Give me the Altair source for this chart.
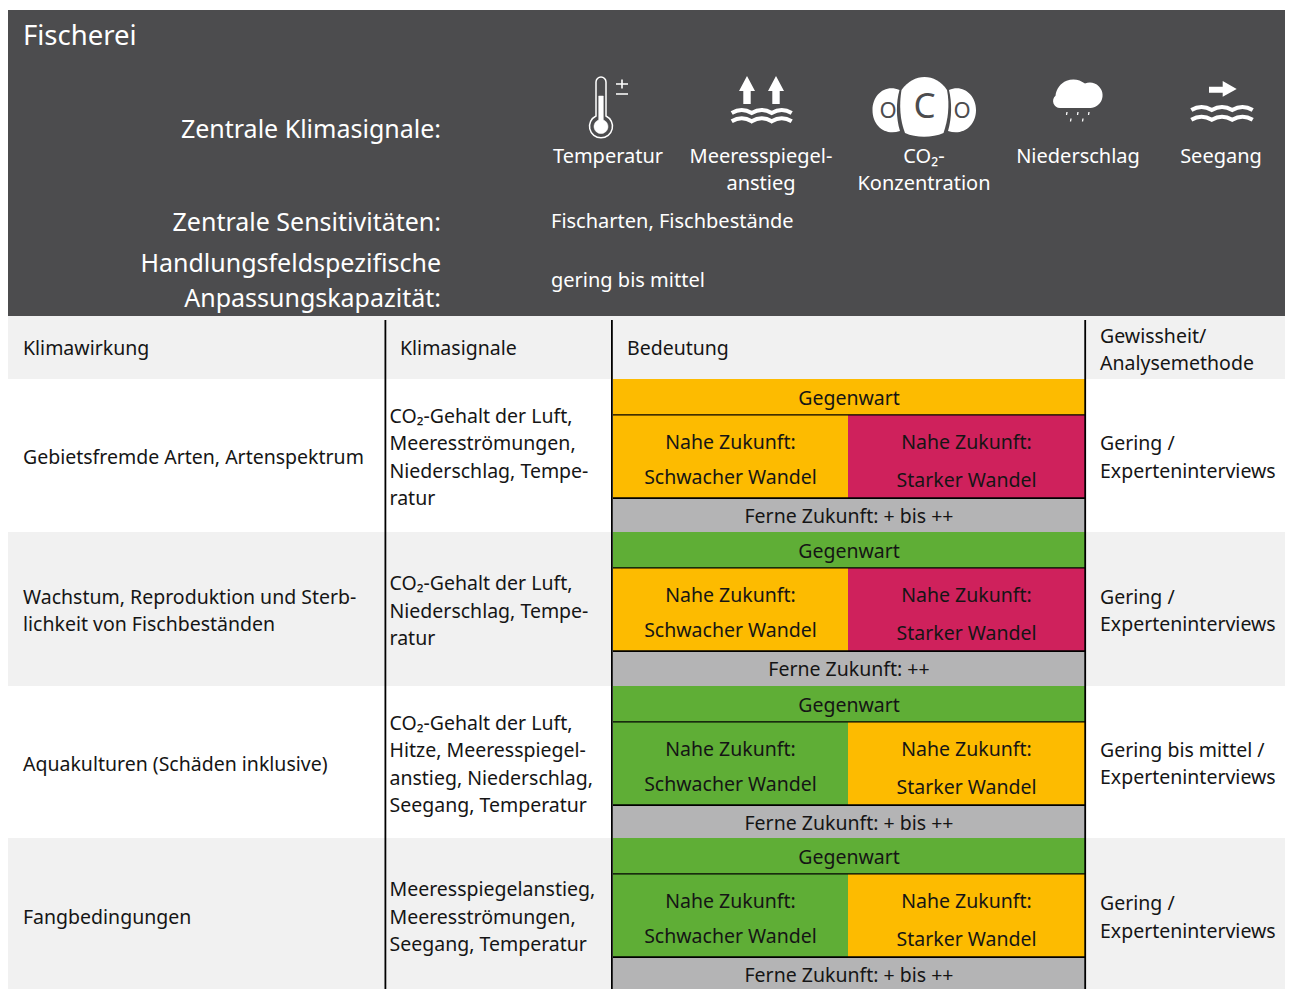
import altair as alt
import pandas as pd

# ---------- content ----------
title = "Fischerei"
side_labels = ["Zentrale Klimasignale:", "Zentrale Sensitivitäten:", "Handlungsfeldspezifische", "Anpassungskapazität:"]
signals = [["Temperatur"], ["Meeresspiegel-", "anstieg"], ["CO₂-", "Konzentration"], ["Niederschlag"], ["Seegang"]]
sensitivities = "Fischarten, Fischbestände"
capacity = "gering bis mittel"
col_heads = ["Klimawirkung", "Klimasignale", "Bedeutung"]
col_head_last = ["Gewissheit/", "Analysemethode"]
impacts = [["Gebietsfremde Arten, Artenspektrum"],
           ["Wachstum, Reproduktion und Sterb-", "lichkeit von Fischbeständen"],
           ["Aquakulturen (Schäden inklusive)"],
           ["Fangbedingungen"]]
row_signals = [["CO₂-Gehalt der Luft,", "Meeresströmungen,", "Niederschlag, Tempe-", "ratur"],
               ["CO₂-Gehalt der Luft,", "Niederschlag, Tempe-", "ratur"],
               ["CO₂-Gehalt der Luft,", "Hitze, Meeresspiegel-", "anstieg, Niederschlag,", "Seegang, Temperatur"],
               ["Meeresspiegelanstieg,", "Meeresströmungen,", "Seegang, Temperatur"]]
certainty = [["Gering /", "Experteninterviews"], ["Gering /", "Experteninterviews"],
             ["Gering bis mittel /", "Experteninterviews"], ["Gering /", "Experteninterviews"]]
Y, R, G, GR = "#fdbb00", "#cf215c", "#5fae36", "#b4b4b5"
present = [Y, G, G, G]
near_weak = [Y, Y, G, G]
near_strong = [R, R, Y, Y]
far = ["Ferne Zukunft: + bis ++", "Ferne Zukunft: ++", "Ferne Zukunft: + bis ++", "Ferne Zukunft: + bis ++"]

# ---------- table geometry ----------
DARK, LIGHT, INK = "#4c4c4e", "#f1f1f1", "#151515"
LEFT, RIGHT, BOTTOM = 8, 1285, 989
FONT = "Noto Sans"
FS = 19.5
FS_LIGHT = 20
row_tops = [379, 532, 686, 838, 991]
C1, C2, CS, C3 = 613, 848, 848, 1085
rects, texts = [], []


def rect(x, x2, y, y2, c):
    rects.append(dict(x=x, x2=x2, y=y, y2=y2, c=c))


def text(s, x, y, align="left", fs=FS, c=INK):
    texts.append(dict(s=s, x=x, y=y + 1, a=align, fs=fs, c=c))


def block(lines, x, ys, **k):
    for s, y in zip(lines, ys):
        text(s, x, y, **k)


rect(LEFT, RIGHT, 10, 316, DARK)
rect(LEFT, RIGHT, 316, 379, LIGHT)
rect(LEFT, RIGHT, 532, 686, LIGHT)
rect(LEFT, RIGHT, 838, BOTTOM, LIGHT)

W = "#ffffff"
text(title, 23, 36, fs=27.5, c=W)
for s, y in zip(side_labels, [129, 222, 263, 298]):
    text(s, 441, y, align="right", fs=25, c=W)
for lines, x in zip(signals, [608, 761, 924, 1078, 1221]):
    block(lines, x, [156, 183], align="center", c=W, fs=FS_LIGHT)
text(sensitivities, 551, 221, c=W, fs=FS_LIGHT)
text(capacity, 551, 280, c=W, fs=FS_LIGHT)
for s, x in zip(col_heads, [23, 400, 627]):
    text(s, x, 348)
block(col_head_last, 1100, [336, 363])

impact_y = [[457], [597, 624], [764], [917]]
signal_y = [[416, 443, 471, 498], [583, 611, 638], [723, 750, 778, 805], [889, 917, 944]]
cert_y = [[443, 471], [597, 624], [750, 777], [903, 931]]
for i in range(4):
    t = row_tops[i]
    b = min(row_tops[i + 1], BOTTOM)
    rect(C1, C3, t, t + 36, present[i])
    rect(C1, CS, t + 36, t + 119, near_weak[i])
    rect(CS, C3, t + 36, t + 119, near_strong[i])
    rect(C1, C3, t + 119, b, GR)
    rect(C1, C3, t + 35.3, t + 36.6, "#000000")
    rect(C1, C3, t + 118.2, t + 120, "#000000")
    block(impacts[i], 23, impact_y[i])
    block(row_signals[i], 389.5, signal_y[i])
    block(certainty[i], 1100, cert_y[i])
    cm = (C1 + C3) / 2
    text("Gegenwart", cm, t + 19, align="center")
    text("Nahe Zukunft:", (C1 + CS) / 2, t + 63, align="center")
    text("Schwacher Wandel", (C1 + CS) / 2, t + 98, align="center")
    text("Nahe Zukunft:", (CS + C3) / 2, t + 63, align="center")
    text("Starker Wandel", (CS + C3) / 2, t + 101, align="center")
    text(far[i], cm, t + 137, align="center")

for x in [384.5, 611, 1084.3]:
    rect(x, x + 1.8, 320, BOTTOM, "#000000")


# ---------- icons: vector glyphs positioned from the sheet origin ----------
def waves(x0, x1, y, n):
    w = (x1 - x0) / n
    d = f"M{x0} {y}"
    for k in range(n):
        d += f" Q{x0 + w * k + w / 2} {y - 6} {x0 + w * (k + 1)} {y}"
    return d


def arrow_up(cx):
    return (f"M{cx} 76 L{cx + 8} 91 L{cx + 3.7} 91 L{cx + 3.7} 104 L{cx - 3.7} 104 "
            f"L{cx - 3.7} 91 L{cx - 8} 91 Z")


icon_parts = [
    # thermometer
    ("M596 116 V82 A5 5 0 0 1 606 82 V116 A11.5 11.5 0 1 1 596 116 Z", "transparent", W, 1.5),
    ("M598.7 96 H603.3 V120 A7 7 0 1 1 598.7 120 Z", W, W, 0.5),
    ("M616 84 H628 M622 79.5 V88.5 M616 94 H628", "transparent", W, 1.6),
    # sea-level
    (arrow_up(747), W, W, 0),
    (arrow_up(776), W, W, 0),
    (waves(731.7, 791.7, 113, 3), "transparent", W, 4),
    (waves(731.7, 791.7, 121.3, 3), "transparent", W, 4),
    # CO2 lobes
    ("M899.5 90 C885 84 872.5 95 872.5 110 C872.5 126 885 136 900 131 C896 118 896 102 899.5 90 Z", W, W, 0),
    ("M901.5 90 C908 81 916 77 924.5 77 C933 77 941 81 947 90 C950 105 948 120 943.5 133 C932 138 916 138 905 133 C900 120 899 105 901.5 90 Z", W, W, 0),
    ("M949 90 C963 84 976 95 976 110 C976 126 963 136 948 131 C952 118 952 102 949 90 Z", W, W, 0),
    # cloud
    ("M1060 108 A7 7 0 0 1 1055.5 95.7 A18 18 0 0 1 1085 83.6 A12.7 12.7 0 1 1 1090.5 108 Z", W, W, 0),
    ("M1067 112 L1066.5 115 M1078 112 L1077.5 115 M1089 112 L1088.5 115 M1071 118.5 L1070.5 121.5 M1083 118.5 L1082.5 121.5",
     "transparent", W, 1.3),
    # sea state
    ("M1209 86.7 H1222.7 V81 L1236.7 89 L1222.7 96.7 V92.7 H1209 Z", W, W, 0),
    (waves(1191.3, 1252.7, 110, 3), "transparent", W, 4),
    (waves(1191.3, 1252.7, 119.7, 3), "transparent", W, 4),
]
icons = pd.DataFrame([dict(x=0, y=0, p=p, f=f, st=s, sw=w) for p, f, s, w in icon_parts])
for s, x, y, fs in [("O", 888, 110, 22), ("C", 924.5, 106, 35), ("O", 962, 110, 22)]:
    text(s, x, y, align="center", fs=fs, c=DARK)

# ---------- chart ----------
X = alt.X("x:Q", scale=alt.Scale(domain=[LEFT, RIGHT], nice=False, zero=False), axis=None)
Yc = alt.Y("y:Q", scale=alt.Scale(domain=[BOTTOM, 8], nice=False, zero=False), axis=None)

rect_layer = alt.Chart(pd.DataFrame(rects)).mark_rect(strokeWidth=0).encode(
    x=X, x2="x2:Q", y=Yc, y2="y2:Q", color=alt.Color("c:N", scale=None))
icon_layer = alt.Chart(icons).mark_point(filled=True, opacity=1, size=4, clip=False).encode(
    x=X, y=Yc,
    shape=alt.Shape("p:N", scale=None),
    fill=alt.Fill("f:N", scale=None),
    stroke=alt.Stroke("st:N", scale=None),
    strokeWidth=alt.StrokeWidth("sw:Q", scale=None))
tdf = pd.DataFrame(texts)
text_layers = [
    alt.Chart(tdf[tdf.a == a]).mark_text(align=a, baseline="middle", font=FONT).encode(
        x=X, y=Yc, text="s:N",
        size=alt.Size("fs:Q", scale=None),
        color=alt.Color("c:N", scale=None))
    for a in ["left", "center", "right"]
]

chart = alt.layer(rect_layer, icon_layer, *text_layers).properties(
    width=RIGHT - LEFT, height=BOTTOM - 8,
    padding=0, autosize=alt.AutoSizeParams(type="none"),
).configure_view(stroke=None)

chart.save("out.html", embed_options={"renderer": "svg", "actions": False})
